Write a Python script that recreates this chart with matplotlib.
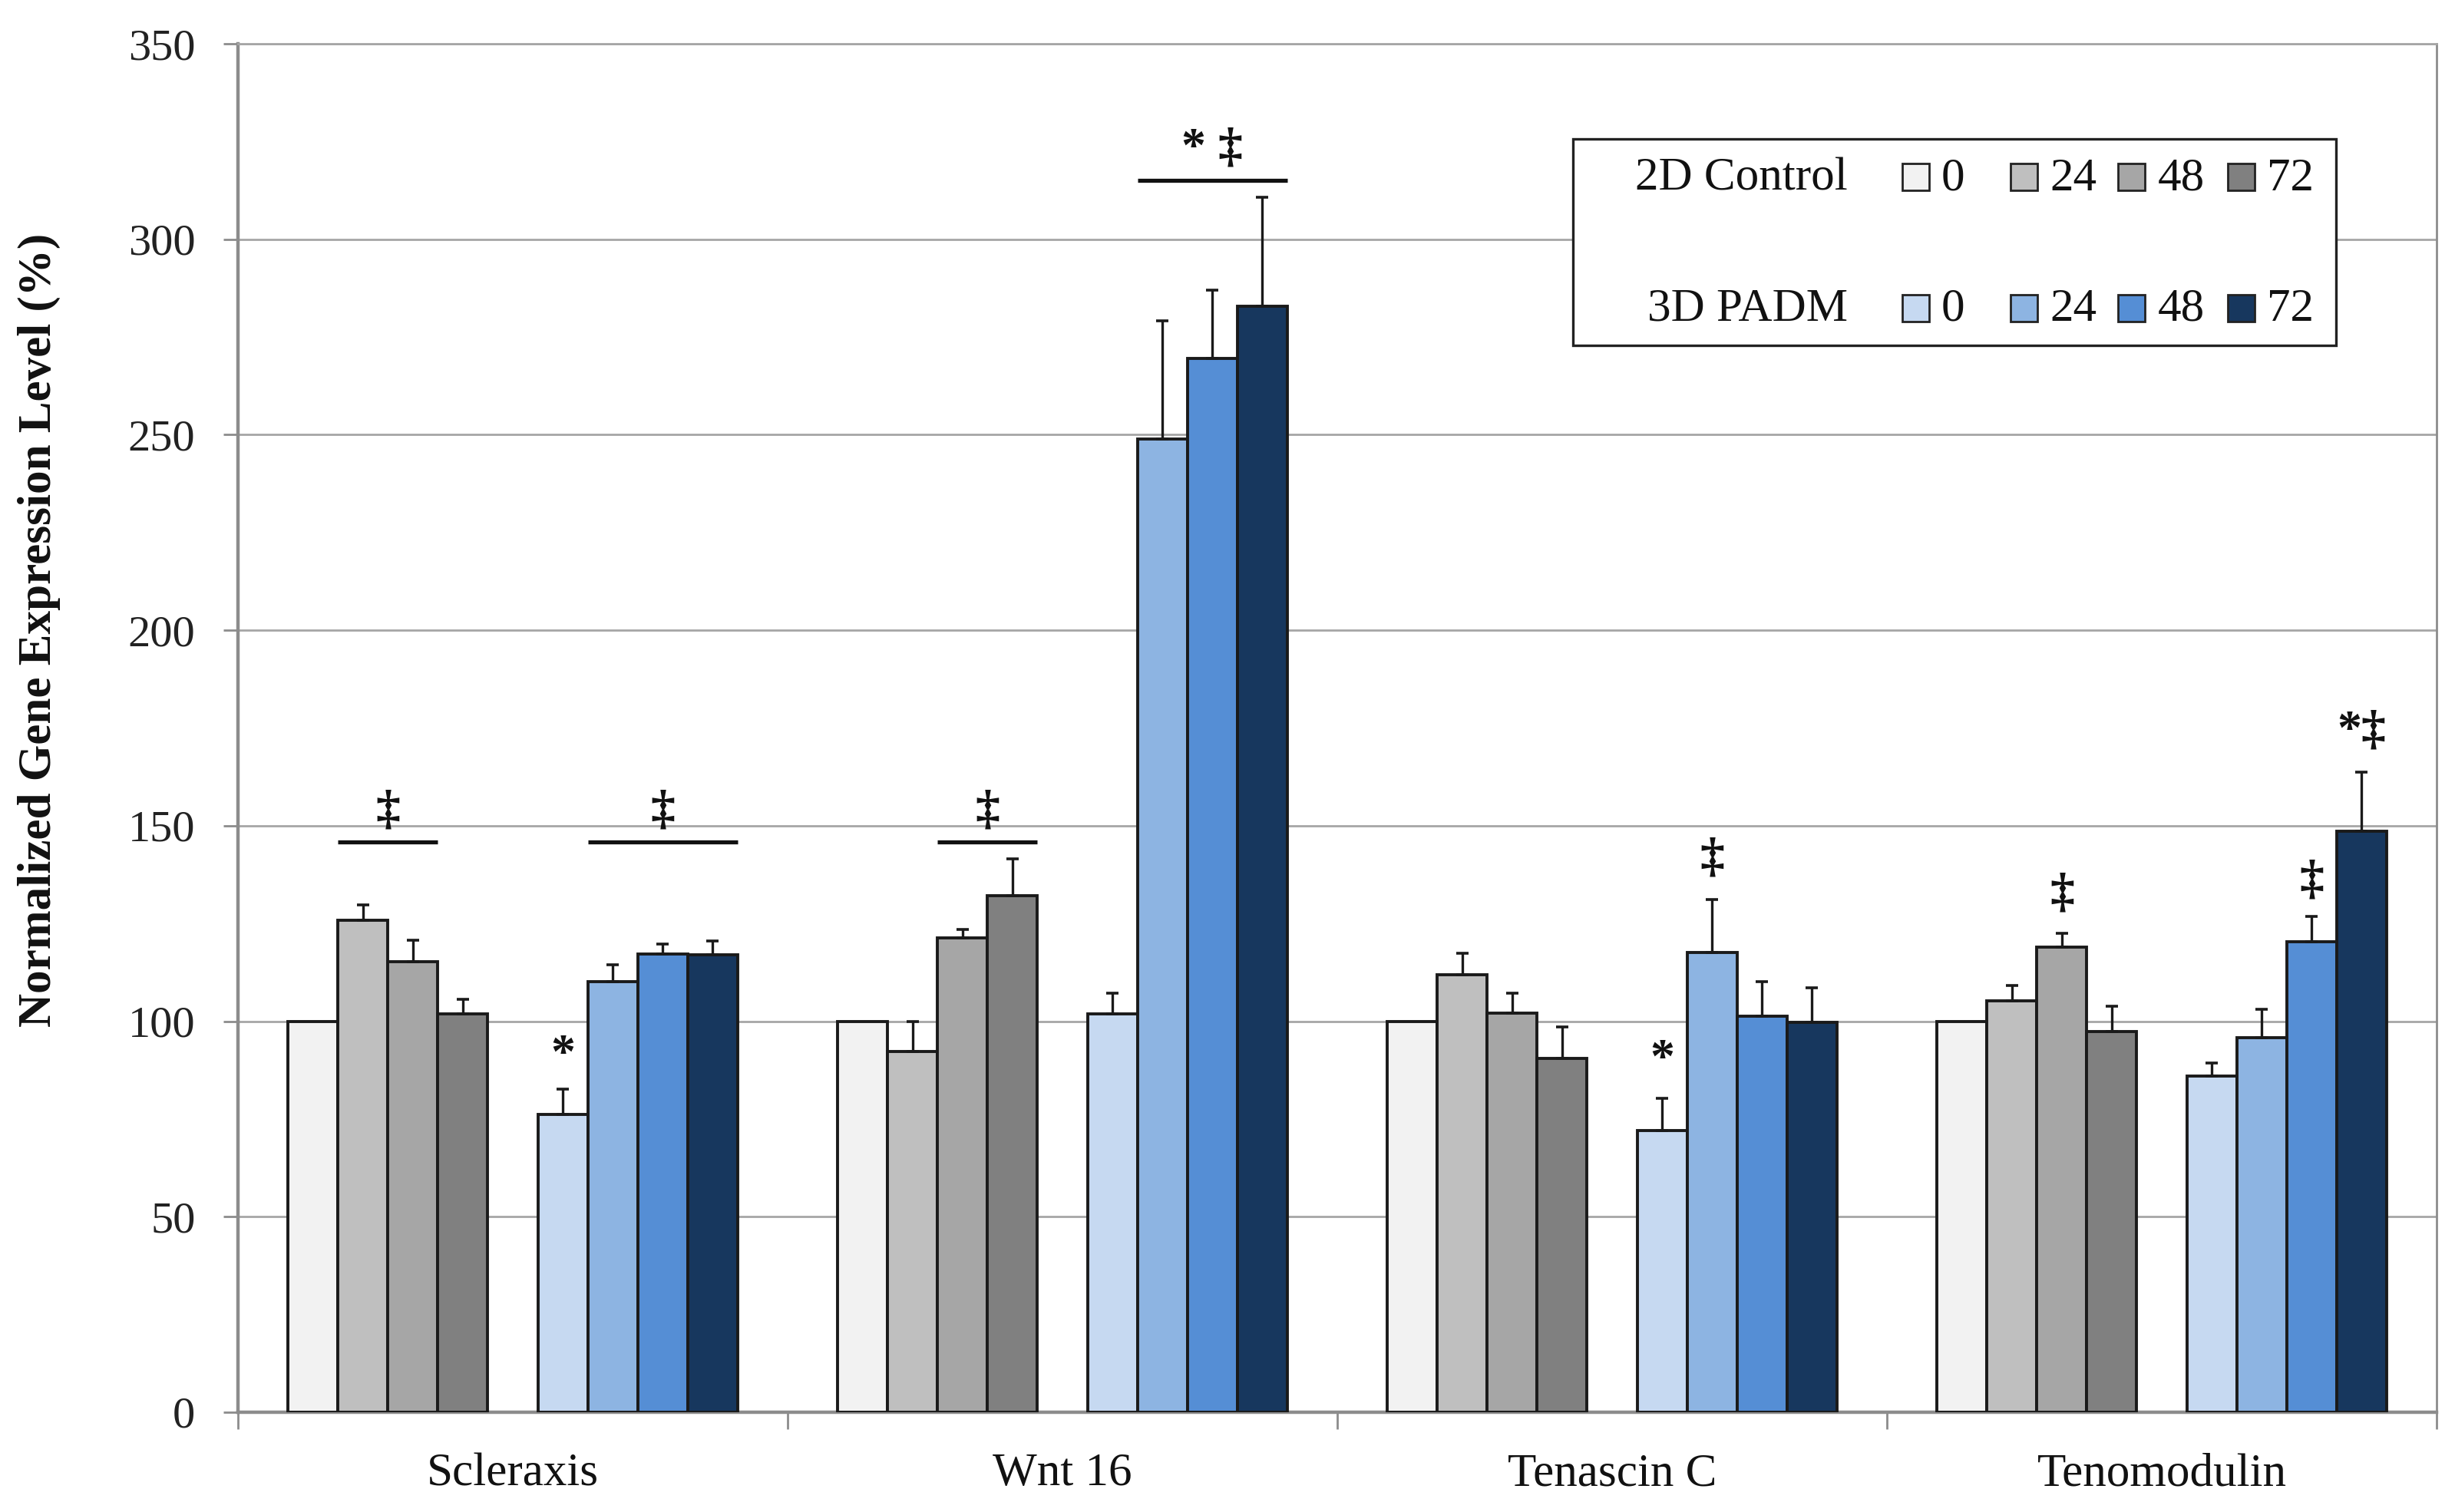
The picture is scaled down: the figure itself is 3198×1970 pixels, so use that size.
import matplotlib
matplotlib.use('Agg')
import matplotlib.pyplot as plt
import numpy as np
from matplotlib.patches import Rectangle

plt.rcParams['font.family'] = ['Liberation Serif', 'DejaVu Serif']

# ---------------- data ----------------
categories = ['Scleraxis', 'Wnt 16', 'Tenascin C', 'Tenomodulin']
time_points = ['0', '24', '48', '72']

# rows: category, columns: time point
ctrl_2d = [[100, 125.8, 115.3, 101.8],
           [100, 92.2, 121.4, 132.2],
           [100, 111.9, 102.0, 90.4],
           [100, 105.3, 118.9, 97.4]]
ctrl_2d_err = [[0, 3.9, 5.4, 3.8],
               [0, 7.8, 2.1, 9.4],
               [0, 5.4, 5.2, 8.2],
               [0, 3.8, 3.5, 6.5]]
padm_3d = [[76.2, 110.1, 117.1, 116.9],
           [101.9, 249.0, 269.6, 282.8],
           [72.1, 117.6, 101.2, 99.8],
           [85.9, 95.8, 120.3, 148.6]]
padm_3d_err = [[6.4, 4.3, 2.7, 3.6],
               [5.3, 30.2, 17.4, 28.0],
               [8.2, 13.6, 8.9, 8.7],
               [3.4, 7.3, 6.5, 15.2]]

# significance brackets: (category, group, first bar, last bar, line y, label, label y)
brackets = [(0, '2D', 1, 2, 145.8, '\u2021', 153.7),
            (0, '3D', 1, 3, 145.8, '\u2021', 153.7),
            (1, '2D', 2, 3, 145.8, '\u2021', 153.7),
            (1, '3D', 1, 3, 315.0, '* \u2021', 323.0)]
# single-bar markers: (category, group, bar, label, label y)
markers = [(0, '3D', 0, '*', 91.0),
           (2, '3D', 0, '*', 90.0),
           (2, '3D', 1, '\u2021', 141.5),
           (3, '2D', 2, '\u2021', 132.4),
           (3, '3D', 2, '\u2021', 135.7),
           (3, '3D', 3, '*\u2021', 174.0)]

colors_2d = ['#f2f2f2', '#bfbfbf', '#a6a6a6', '#808080']
colors_3d = ['#c6d9f1', '#8db4e2', '#558ed5', '#17375e']

# ---------------- figure ----------------
W, H = 3198, 1970
fig = plt.figure(figsize=(W / 200, H / 200), dpi=200)
ax = fig.add_axes([310 / W, 1 - 1840 / H, (3174 - 310) / W, (1840 - 57) / H])

w = 1 / 11
xc = np.arange(len(categories))


def bar_x(cat, group, k):
    off = 0 if group == '2D' else 5
    return cat - 0.5 + w * (1.5 + k + off)


edge = '#1a1a1a'
for group, vals, errs, cols in (('2D', ctrl_2d, ctrl_2d_err, colors_2d),
                                ('3D', padm_3d, padm_3d_err, colors_3d)):
    for k in range(4):
        xs = np.array([bar_x(c, group, k) for c in xc])
        v = np.array([row[k] for row in vals])
        e = np.array([row[k] for row in errs])
        ax.bar(xs, v, width=w, color=cols[k], edgecolor=edge, linewidth=1.4, zorder=3)
        m = e > 0
        if m.any():
            ax.errorbar(xs[m], v[m], yerr=[np.zeros(m.sum()), e[m]], fmt='none',
                        ecolor=edge, elinewidth=1.2, capsize=3, capthick=1.3, zorder=4)

mk = dict(ha='center', va='center', fontsize=23, fontweight='bold', color='#111111')
for cat, group, k0, k1, ly, lab, ty in brackets:
    x0 = bar_x(cat, group, k0) - w / 2
    x1 = bar_x(cat, group, k1) + w / 2
    ax.plot([x0, x1], [ly, ly], color='#111111', lw=1.9, solid_capstyle='butt', zorder=5)
    ax.text((x0 + x1) / 2, ty, lab, **mk)

for cat, group, k, lab, ty in markers:
    ax.text(bar_x(cat, group, k), ty, lab, **mk)

# axes styling
ax.set_ylim(0, 350)
ax.set_yticks(range(0, 351, 50))
ax.set_xlim(-0.5, 3.5)
ax.set_xticks(np.arange(-0.5, 3.6, 1.0))
ax.set_xticklabels([])
ax.set_xticks(xc, minor=True)
ax.set_xticklabels(categories, minor=True)

ax.yaxis.grid(True, color='#a6a6a6', linewidth=1.0)
ax.set_axisbelow(True)

for s in ('left', 'bottom'):
    ax.spines[s].set_color('#8c8c8c')
    ax.spines[s].set_linewidth(1.6)
ax.spines['right'].set_color('#8c8c8c')
ax.spines['right'].set_linewidth(1.0)
ax.spines['top'].set_color('#a6a6a6')
ax.spines['top'].set_linewidth(1.0)

ax.tick_params(axis='y', direction='out', length=7, width=1.0, color='#8c8c8c',
               labelsize=21, pad=13, labelcolor='#222222')
ax.tick_params(axis='x', which='major', direction='out', length=8, width=1.0, color='#8c8c8c')
ax.tick_params(axis='x', which='minor', length=0, pad=19, labelsize=22, labelcolor='#111111')

fig.text(51 / W, 1 - 821 / H, 'Normalized Gene Expression Level (%)', rotation=90,
         ha='center', va='center', fontsize=22, fontweight='bold', color='#111111')

# legend box (manual, figure coordinates)
fig.add_artist(Rectangle((2049 / W, 1 - 450 / H), (3043 - 2049) / W, (450 - 181) / H,
                         transform=fig.transFigure, facecolor='white', edgecolor='#222222',
                         linewidth=1.2, zorder=10))
row_y = [231, 401]
row_names = ['2D Control', '3D PADM']
sq_x = [2478, 2619, 2759, 2902]
lab_x = [2529, 2670, 2811, 2953]
sq = 35
for r, (name, cols) in enumerate(zip(row_names, (colors_2d, colors_3d))):
    yc = row_y[r]
    fig.text(2407 / W, 1 - (yc + 2) / H, name, ha='right', va='center', fontsize=22,
             color='#111111', zorder=11)
    for k in range(4):
        fig.add_artist(Rectangle((sq_x[k] / W, 1 - (yc + sq / 2) / H), sq / W, sq / H,
                                 transform=fig.transFigure, facecolor=cols[k],
                                 edgecolor='#222222', linewidth=1.0, zorder=11))
        fig.text(lab_x[k] / W, 1 - (yc + 2) / H, time_points[k], ha='left', va='center',
                 fontsize=22, color='#111111', zorder=11)

fig.savefig('out.png', dpi=200, facecolor='white')
